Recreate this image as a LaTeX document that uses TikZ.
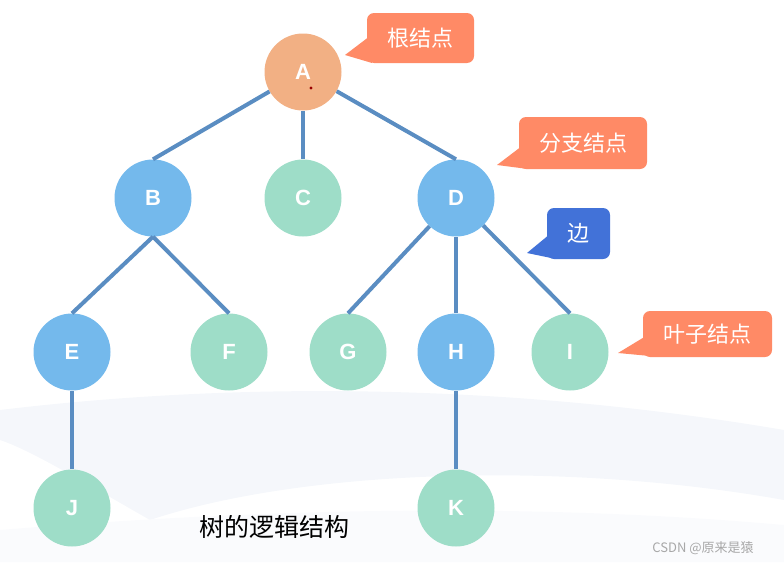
\documentclass[tikz,border=0pt]{standalone}
\usepackage{fontspec}
\setmainfont{Liberation Sans}
\newfontfamily\cjk{Noto Sans CJK SC}
\definecolor{nodeorange}{HTML}{F2B084}
\definecolor{nodeblue}{HTML}{74B9EC}
\definecolor{nodegreen}{HTML}{9EDDC8}
\definecolor{edgeblue}{HTML}{5A8DC2}
\definecolor{coral}{HTML}{FF8A66}
\definecolor{calloutblue}{HTML}{4272D8}
\definecolor{swoosh}{HTML}{F5F7FB}
\definecolor{wmgray}{HTML}{A8A8A8}
\begin{document}
\begin{tikzpicture}[x=1pt,y=-1pt,
  tnode/.style={circle,minimum size=77pt,inner sep=0pt,text=white,font=\fontsize{22}{22}\selectfont\bfseries},
  ob/.style={tnode,fill=nodeorange},
  bl/.style={tnode,fill=nodeblue},
  gr/.style={tnode,fill=nodegreen},
  edge/.style={draw=edgeblue,line width=4pt},
  callout/.style={rounded corners=7pt},
  ctext/.style={text=white,font=\cjk\fontsize{22}{22}\selectfont,inner sep=0pt}]
\useasboundingbox (0,0) rectangle (784,562);
% faint background swooshes
\fill[swoosh] (0,410) .. controls (250,380) and (520,385) .. (784,430) -- (784,500) .. controls (560,460) and (300,470) .. (150,520) .. controls (80,480) and (30,450) .. (0,440) -- cycle;
\fill[swoosh!50] (0,530) .. controls (300,505) and (560,505) .. (784,525) -- (784,562) -- (0,562) -- cycle;
% nodes
\node[ob] (A) at (303,72) {A};
\node[bl] (B) at (153,198) {B};
\node[gr] (C) at (303,198) {C};
\node[bl] (D) at (456,198) {D};
\node[bl] (E) at (72,352) {E};
\node[gr] (F) at (229,352) {F};
\node[gr] (G) at (348,352) {G};
\node[bl] (H) at (456,352) {H};
\node[gr] (I) at (570,352) {I};
\node[gr] (J) at (72,508) {J};
\node[gr] (K) at (456,508) {K};
% edges
\draw[edge] (A) -- (B.north);
\draw[edge] (A) -- (C);
\draw[edge] (A) -- (D.north);
\draw[edge] (B.south) -- (E.north);
\draw[edge] (B.south) -- (F.north);
\draw[edge] (D) -- (G.north);
\draw[edge] (D) -- (H);
\draw[edge] (D) -- (I.north);
\draw[edge] (E) -- (J);
\draw[edge] (H) -- (K);
% tiny red dot
\fill[red!60!black] (311,88) circle (1.6pt);
% callouts
\fill[coral] (370,36) -- (345,55) -- (372,63) -- cycle;
\fill[coral,callout] (367,13) rectangle (474,63);
\node[ctext] (t1) at (420.5,38) {根结点};
\fill[coral] (522,146) -- (497,165) -- (528,169) -- cycle;
\fill[coral,callout] (519,117) rectangle (647,169);
\node[ctext] (t2) at (583,143) {分支结点};
\fill[calloutblue] (550,234) -- (527,253) -- (556,259) -- cycle;
\fill[calloutblue,callout] (547,208) rectangle (610,259);
\node[ctext] (t3) at (578.5,233.5) {边};
\fill[coral] (646,336) -- (618,353) -- (650,356) -- cycle;
\fill[coral,callout] (643,311) rectangle (772,357);
\node[ctext] (t4) at (707.5,334) {叶子结点};
% caption
\node[font=\cjk\fontsize{25}{25}\selectfont,inner sep=0pt] (cap) at (274,527) {树的逻辑结构};
\node[font=\cjk\fontsize{13}{13}\selectfont,text=wmgray,inner sep=0pt] (wm) at (703,548) {CSDN @原来是猿};
\end{tikzpicture}
\end{document}
